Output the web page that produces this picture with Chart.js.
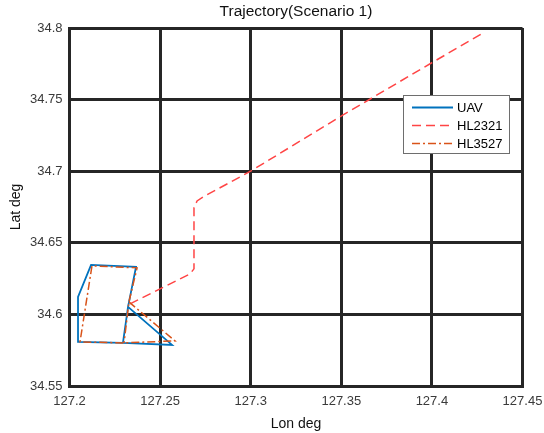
<!DOCTYPE html>
<html>
<head>
<meta charset="utf-8">
<script src="https://cdn.jsdelivr.net/npm/chart.js@4.4.1/dist/chart.umd.min.js"></script>
<style>
  html, body { margin: 0; padding: 0; background: #ffffff; }
  #wrap { width: 544px; height: 433px; }
</style>
</head>
<body>
<div id="wrap"><canvas id="c" width="544" height="433"></canvas></div>
<script>
// ---- Data ----
const uavLon = [127.2323, 127.2566, 127.2295, 127.2047, 127.2047, 127.2119, 127.2367, 127.2323, 127.2295];
const uavLat = [34.6053, 34.5787, 34.5801, 34.5808, 34.6122, 34.6346, 34.6332, 34.6053, 34.5801];

const hl2321Lon = [127.2334, 127.2378, 127.2665, 127.2687, 127.2687, 127.2704, 127.2737, 127.3002, 127.3510, 127.4007, 127.4283];
const hl2321Lat = [34.6073, 34.6101, 34.6283, 34.6318, 34.6744, 34.6792, 34.6820, 34.7002, 34.7393, 34.7763, 34.7965];

const hl3527Lon = [127.2328, 127.2582, 127.2301, 127.2058, 127.2124, 127.2373, 127.2328, 127.2301];
const hl3527Lat = [34.6087, 34.5815, 34.5801, 34.5808, 34.6339, 34.6325, 34.6087, 34.5801];

const seriesNames = ['UAV', 'HL2321', 'HL3527'];

const xTicks = [127.2, 127.25, 127.3, 127.35, 127.4, 127.45];
const xTickLabels = ['127.2', '127.25', '127.3', '127.35', '127.4', '127.45'];
const yTicks = [34.55, 34.6, 34.65, 34.7, 34.75, 34.8];
const yTickLabels = ['34.55', '34.6', '34.65', '34.7', '34.75', '34.8'];

const titleText = 'Trajectory(Scenario 1)';
const xTitle = 'Lon deg';
const yTitle = 'Lat deg';

// ---- Build ----
function pts(lon, lat) { return lon.map((v, i) => ({ x: v, y: lat[i] })); }

const FONT = '"Liberation Sans", Arial, Helvetica, sans-serif';
const AXC = '#262626';
const TICKC = '#3a3a3a';

const titlePlugin = {
  id: 'centeredTitle',
  afterDraw(chart) {
    const ctx = chart.ctx;
    const ca = chart.chartArea;
    ctx.save();
    ctx.fillStyle = '#111111';
    ctx.font = '15.5px ' + FONT;
    ctx.textAlign = 'center';
    ctx.textBaseline = 'middle';
    ctx.fillText(titleText, (ca.left + ca.right) / 2, 12);
    ctx.restore();
  }
};

const legendPlugin = {
  id: 'boxLegend',
  afterDraw(chart) {
    const ctx = chart.ctx;
    const ca = chart.chartArea;
    const x0 = ca.left + 333.5, y0 = ca.top + 67, w = 106, h = 58;
    ctx.save();
    ctx.fillStyle = '#ffffff';
    ctx.fillRect(x0, y0, w, h);
    ctx.strokeStyle = '#6e6e6e';
    ctx.lineWidth = 1;
    ctx.strokeRect(x0 + 0.5, y0 + 0.5, w, h);
    [0, 1, 2].forEach((di, k) => {
      const ds = chart.data.datasets[di];
      const yy = y0 + 12.5 + k * 18;
      ctx.beginPath();
      ctx.setLineDash(ds.borderDash || []);
      ctx.strokeStyle = ds.borderColor;
      ctx.lineWidth = ds.borderWidth;
      ctx.moveTo(x0 + 9, yy);
      ctx.lineTo(x0 + 50, yy);
      ctx.stroke();
      ctx.setLineDash([]);
      ctx.fillStyle = '#000000';
      ctx.font = '13px ' + FONT;
      ctx.textBaseline = 'middle';
      ctx.textAlign = 'left';
      ctx.fillText(ds.label, x0 + 54, yy + 1);
    });
    ctx.restore();
  }
};

new Chart(document.getElementById('c'), {
  type: 'scatter',
  data: {
    datasets: [
      {
        label: seriesNames[0],
        data: pts(uavLon, uavLat),
        showLine: true,
        borderColor: '#0072BD',
        backgroundColor: '#0072BD',
        borderWidth: 1.8,
        pointRadius: 0,
        tension: 0,
        order: 3
      },
      {
        label: seriesNames[1],
        data: pts(hl2321Lon, hl2321Lat),
        showLine: true,
        borderColor: '#FF4545',
        backgroundColor: '#FF4545',
        borderWidth: 1.5,
        borderDash: [9, 5],
        pointRadius: 0,
        tension: 0,
        order: 2
      },
      {
        label: seriesNames[2],
        data: pts(hl3527Lon, hl3527Lat),
        showLine: true,
        borderColor: '#D95319',
        backgroundColor: '#D95319',
        borderWidth: 1.5,
        borderDash: [8, 3, 2, 3],
        pointRadius: 0,
        tension: 0,
        order: 1
      }
    ]
  },
  options: {
    responsive: false,
    devicePixelRatio: 1,
    animation: false,
    layout: { padding: { left: 0, right: 21.5, top: 28, bottom: 0 } },
    plugins: {
      legend: { display: false },
      tooltip: { enabled: false },
      title: { display: false }
    },
    scales: {
      x: {
        type: 'linear',
        min: 127.2,
        max: 127.45,
        afterBuildTicks(scale) { scale.ticks = xTicks.map(v => ({ value: v })); },
        afterFit(scale) { scale.height = 47; scale.paddingLeft = 0; scale.paddingRight = 0; },
        ticks: {
          color: TICKC,
          font: { family: FONT, size: 13 },
          padding: 8,
          maxRotation: 0,
          autoSkip: false,
          callback(v, i) { return xTickLabels[i]; }
        },
        grid: { color: AXC, lineWidth: 3, drawTicks: false },
        border: { display: true, color: AXC, width: 3 },
        title: {
          display: true,
          text: xTitle,
          color: '#111111',
          font: { family: FONT, size: 14 },
          padding: { top: 2, bottom: 0 }
        }
      },
      y: {
        type: 'linear',
        min: 34.55,
        max: 34.8,
        afterBuildTicks(scale) { scale.ticks = yTicks.map(v => ({ value: v })); },
        afterFit(scale) { scale.width = 69.5; scale.paddingTop = 0; scale.paddingBottom = 0; },
        ticks: {
          color: TICKC,
          font: { family: FONT, size: 13 },
          padding: 7,
          autoSkip: false,
          callback(v, i) { return yTickLabels[i]; }
        },
        grid: { color: AXC, lineWidth: 3, drawTicks: false },
        border: { display: true, color: AXC, width: 3 },
        title: {
          display: true,
          text: yTitle,
          color: '#111111',
          font: { family: FONT, size: 14 },
          padding: { top: 8, bottom: 0 }
        }
      }
    }
  },
  plugins: [legendPlugin, titlePlugin]
});
</script>
</body>
</html>
